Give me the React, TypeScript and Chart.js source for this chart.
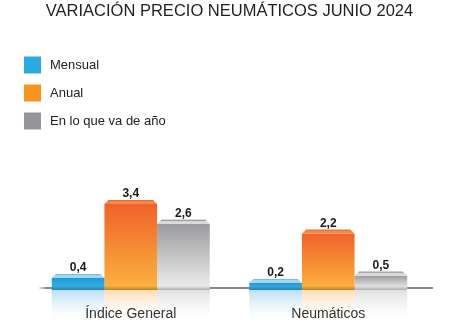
import React, { useEffect, useRef } from "react";
import { Chart, registerables } from "chart.js";

Chart.register(...registerables);

const TITLE = "VARIACIÓN PRECIO NEUMÁTICOS JUNIO 2024";
const categories = ["Índice General", "Neumáticos"];
const seriesNames = ["Mensual", "Anual", "En lo que va de año"];
const mensual = [0.4, 0.2];
const anual = [3.4, 2.2];
const enLoQueVa = [2.6, 0.5];

const FONT = '"Liberation Sans", Arial, Helvetica, sans-serif';

const palette = [
  { legend: "#29abe2", top: "#1e9bd8", bottom: "#38b0e6", bevel: "#a6d6f1", edge: "#6cc0e8", refl: "rgba(130,195,235,0.55)" },
  { legend: "#f7941d", top: "#f0622a", bottom: "#fbb23f", bevel: "#f4874a", edge: "#ea6a33", refl: "rgba(248,185,110,0.5)" },
  { legend: "#939598", top: "#9b9b9d", bottom: "#ededed", bevel: "#d8d8d8", edge: "#8c8c8c", refl: "rgba(185,185,185,0.45)" },
];

const axisLine = {
  id: "axisLine",
  beforeDatasetsDraw(chart: any) {
    const { ctx, chartArea } = chart;
    const y = chart.scales.y.getPixelForValue(0);
    ctx.save();
    const g = ctx.createLinearGradient(chartArea.left + 6, 0, chartArea.left + 14, 0);
    g.addColorStop(0, "rgba(138,138,138,0)");
    g.addColorStop(1, "rgba(138,138,138,1)");
    ctx.strokeStyle = g;
    ctx.lineWidth = 2;
    ctx.beginPath();
    ctx.moveTo(chartArea.left + 6, y);
    ctx.lineTo(chartArea.right + 6, y);
    ctx.stroke();
    ctx.restore();
  },
};

const barDecor = {
  id: "barDecor",
  afterDatasetsDraw(chart: any) {
    const ctx = chart.ctx;
    const h = chart.height;
    chart.data.datasets.forEach((ds: any, i: number) => {
      const meta = chart.getDatasetMeta(i);
      const p = palette[i];
      meta.data.forEach((el: any, j: number) => {
        const { x, y, base, width } = el.getProps(["x", "y", "base", "width"], true);
        const left = x - width / 2;
        const right = x + width / 2;
        ctx.save();
        // reflection
        const rb = Math.min(h, base + 38);
        const rg = ctx.createLinearGradient(0, base, 0, rb);
        rg.addColorStop(0, p.refl);
        rg.addColorStop(1, "rgba(255,255,255,0)");
        ctx.fillStyle = rg;
        ctx.fillRect(left, base, width, rb - base);
        // bottom shadow
        const sg = ctx.createLinearGradient(0, base - 4, 0, base);
        sg.addColorStop(0, "rgba(0,0,0,0)");
        sg.addColorStop(1, "rgba(0,0,0,0.28)");
        ctx.fillStyle = sg;
        ctx.fillRect(left, base - 4, width, 4);
        // bevel
        const bv = 4;
        ctx.beginPath();
        ctx.moveTo(left, y);
        ctx.lineTo(right, y);
        ctx.lineTo(right - bv, y - bv);
        ctx.lineTo(left + bv, y - bv);
        ctx.closePath();
        ctx.fillStyle = p.bevel;
        ctx.fill();
        ctx.beginPath();
        ctx.moveTo(left + bv, y - bv + 0.5);
        ctx.lineTo(right - bv, y - bv + 0.5);
        ctx.strokeStyle = p.edge;
        ctx.lineWidth = 1;
        ctx.stroke();
        // value label
        const v = ds.data[j];
        ctx.fillStyle = "#1a1a1a";
        ctx.font = `bold 12px ${FONT}`;
        ctx.textAlign = "center";
        ctx.textBaseline = "alphabetic";
        ctx.fillText(String(v).replace(".", ","), x, y - bv - 3);
        ctx.restore();
      });
    });
  },
};

const legendPlugin = {
  id: "sideLegend",
  afterDraw(chart: any) {
    const ctx = chart.ctx;
    ctx.save();
    chart.data.datasets.forEach((ds: any, i: number) => {
      const top = 56.5 + i * 28;
      ctx.fillStyle = palette[i].legend;
      ctx.fillRect(24, top, 17, 17);
      ctx.fillStyle = "#222";
      ctx.font = `13px ${FONT}`;
      ctx.textAlign = "left";
      ctx.textBaseline = "middle";
      ctx.fillText(ds.label, 50, top + 8.5);
    });
    ctx.restore();
  },
};

export default function App() {
  const ref = useRef<HTMLCanvasElement | null>(null);
  useEffect(() => {
    if (!ref.current) return;
    const series = [mensual, anual, enLoQueVa];
    const chart = new Chart(ref.current, {
      type: "bar",
      data: {
        labels: categories,
        datasets: series.map((d, i) => ({
          label: seriesNames[i],
          data: d,
          base: -0.08,
          clip: false as any,
          borderWidth: 0,
          categoryPercentage: 0.8,
          barPercentage: 1.0,
          backgroundColor: (c: any) => {
            const p = palette[i];
            const chart = c.chart;
            if (!chart.chartArea || c.type !== "data") return p.legend;
            const ys = chart.scales.y;
            const top = ys.getPixelForValue(c.raw);
            const base = ys.getPixelForValue(0);
            const g = chart.ctx.createLinearGradient(0, top, 0, base);
            g.addColorStop(0, p.top);
            g.addColorStop(1, p.bottom);
            return g;
          },
        })),
      },
      options: {
        responsive: false,
        animation: false,
        layout: { padding: { left: 32, right: 23, top: 0, bottom: 0 } },
        plugins: {
          legend: { display: false },
          tooltip: { enabled: false },
          title: {
            display: true,
            text: TITLE,
            color: "#1f1f1f",
            font: { family: FONT, size: 16.5, weight: "normal" },
            padding: { top: 2, bottom: 19.2 },
          },
        },
        scales: {
          x: {
            grid: { display: false },
            border: { display: false },
            ticks: { color: "#333", font: { family: FONT, size: 14 }, padding: 10, z: 1 },
            afterFit: (scale: any) => {
              scale.height = 36;
            },
          },
          y: { display: false, min: 0, max: 10 },
        },
      },
      plugins: [axisLine, barDecor, legendPlugin],
    });
    return () => chart.destroy();
  }, []);
  return (
    <div style={{ position: "absolute", left: 0, top: 0, width: 450, height: 324, background: "#fff" }}>
      <canvas ref={ref} width={450} height={324} />
    </div>
  );
}
